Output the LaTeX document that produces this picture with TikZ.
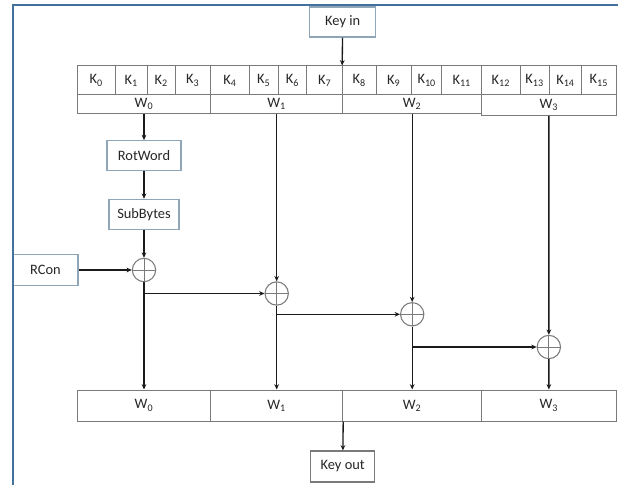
\documentclass[tikz,border=0pt]{standalone}
\usepackage{fontspec}
\setmainfont{Carlito}
\usetikzlibrary{arrows.meta}
\definecolor{kframe}{HTML}{41719C}
\definecolor{kbox}{HTML}{8FA5B8}
\definecolor{kcell}{HTML}{7A7A7A}
\definecolor{kink}{HTML}{1A1A1A}
\definecolor{ktext}{HTML}{262626}

\begin{document}
\begin{tikzpicture}[x=0.75pt, y=-0.75pt,
  font=\fontsize{10.8}{12}\selectfont, text=ktext,
  proc/.style={draw=kbox, line width=0.8pt, fill=white, inner sep=0pt, minimum height=22.5pt},
  cell/.style={draw=kcell, line width=0.75pt, inner sep=0pt},
  xor/.style={circle, draw=kcell, line width=0.8pt, minimum size=17.5pt, inner sep=0pt,
    path picture={\draw[kcell, line width=0.7pt] (path picture bounding box.north) -- (path picture bounding box.south)
      (path picture bounding box.west) -- (path picture bounding box.east);}},
  flow/.style={-{Stealth[length=4pt, width=3.5pt]}, line width=1pt, kink}]
  \useasboundingbox (0,0) rectangle (618,485);
  % key bytes and words
  \foreach \i/\a/\b in {0/77.3/115, 1/115/147.3, 2/147.3/175, 3/175/210.7, 4/210.7/249.3, 5/249.3/278.3,
      6/278.3/306.7, 7/306.7/342.7, 8/342.7/376, 9/376/411.7, 10/411.7/441.7, 11/441.7/481.7,
      12/481.7/520, 13/520/549.3, 14/549.3/581.7, 15/581.7/616}
    \node[cell, minimum width={(\b-\a)*0.75pt}, minimum height=21.75pt] (k\i) at ({(\a+\b)/2}, 80.5) {K\textsubscript{\i}};
  \foreach \i/\a/\b/\h in {0/77.3/210.7/18.3, 1/210.7/342.7/18.3, 2/342.7/481.7/18.3, 3/481.7/616/20.5}
    \node[cell, minimum width={(\b-\a)*0.75pt}, minimum height={\h*0.75pt}] (w\i) at ({(\a+\b)/2}, {95+\h/2}) {W\textsubscript{\i}};
  \foreach \i/\a/\b in {0/77.3/210.7, 1/210.7/342.7, 2/342.7/481.7, 3/481.7/616}
    \node[cell, minimum width={(\b-\a)*0.75pt}, minimum height=23.25pt] (v\i) at ({(\a+\b)/2}, 405.5) {W\textsubscript{\i}};
  % boxes
  \node[proc, minimum width=49.5pt] (keyin) at (342.7,22) {Key in};
  \node[proc, minimum width=55.5pt] (rot) at (144,155.7) {RotWord};
  \node[proc, minimum width=52.5pt] (sub) at (144,214.3) {SubBytes};
  \node[proc, minimum width=48.75pt, minimum height=23.25pt] (rcon) at (45.5,270) {RCon};
  \node[proc, draw=kcell, minimum width=48pt, minimum height=23.25pt] (keyout) at (342.7,466.5) {Key out};
  % xor
  \node[xor] (x1) at (144,270) {};
  \node[xor] (x2) at (276.7,293.5) {};
  \node[xor] (x3) at (412.2,314.3) {};
  \node[xor] (x4) at (548.85,347) {};
  % arrows
  \draw[flow] (keyin) -- (k8.north west);
  \draw[flow] (w0) -- (rot);
  \draw[flow] (rot) -- (sub);
  \draw[flow] (sub) -- (x1);
  \draw[flow] (rcon) -- (x1);
  \draw[flow] (x1) -- (v0);
  \draw[flow] (x1 |- x2) -- (x2);
  \draw[flow] (w1) -- (x2);
  \draw[flow] (x2) -- (v1);
  \draw[flow] (x2 |- x3) -- (x3);
  \draw[flow] (w2) -- (x3);
  \draw[flow] (x3) -- (v2);
  \draw[flow] (x3 |- x4) -- (x4);
  \draw[flow] (w3) -- (x4);
  \draw[flow] (x4) -- (v3);
  \draw[flow] (v1.south east) -- (keyout);
  % frame
  \draw[kframe, line width=1.6pt] (12.7,485) -- (12.7,5) -- (618,5);
\end{tikzpicture}
\end{document}
